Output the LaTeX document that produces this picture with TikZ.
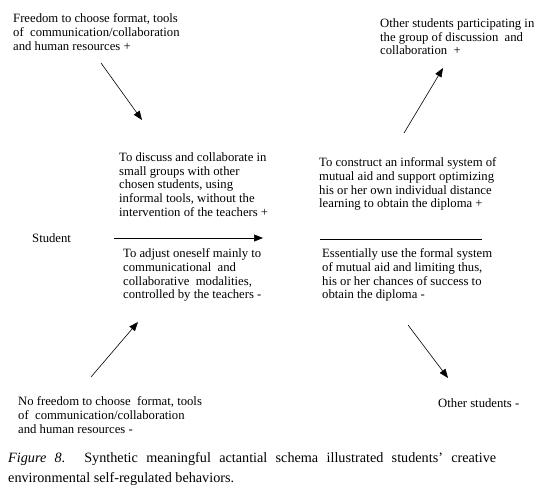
\documentclass[tikz,border=0pt]{standalone}
\usepackage{fontspec}
\setmainfont{Liberation Serif}
\usetikzlibrary{arrows.meta}
\begin{document}
\begin{tikzpicture}[x=1pt,y=-1pt,
  lbl/.style={anchor=north west,inner sep=0pt,align=left,font=\fontsize{12.7}{13.8}\selectfont},
  captext/.style={anchor=north west,inner sep=0pt,text width=488pt,align=justify,font=\fontsize{14.2}{20}\selectfont},
  arr/.style={-{Triangle[length=9pt,width=7pt]},line width=0.6pt},
  plainline/.style={line width=0.6pt}]
\useasboundingbox (0,0) rectangle (556,491);
\node[lbl] (free) at (13,13.3) {Freedom to choose format, tools\\of\ \ communication/collaboration\\and human resources +};
\node[lbl] (others) at (380,18.3) {Other students participating in\\the group of discussion\ \ and\\collaboration\ \ +};
\node[lbl] (discuss) at (119,152.3) {To discuss and collaborate in\\small groups with other\\chosen students, using\\informal tools, without the\\intervention of the teachers +};
\node[lbl] (student) at (32,233.3) {Student};
\node[lbl] (adjust) at (123,248.3) {To adjust oneself mainly to\\communicational\ \ and\\collaborative\ \ modalities,\\controlled by the teachers -};
\node[lbl] (construct) at (319,157.3) {To construct an informal system of\\mutual aid and support optimizing\\his or her own individual distance\\learning to obtain the diploma +};
\node[lbl] (formal) at (322,248.3) {Essentially use the formal system\\of mutual aid and limiting thus,\\his or her chances of success to\\obtain the diploma -};
\node[lbl] (nofree) at (18,396.3) {No freedom to choose\ \ format, tools\\of\ \ communication/collaboration\\and human resources -};
\node[lbl] (otherm) at (438,398.3) {Other students -};
\node[captext] (caption) at (8,452.3) {\textit{Figure 8}. Synthetic meaningful actantial schema illustrated students' creative\linebreak environmental self-regulated behaviors.};
\coordinate (a1s) at (101,63); \coordinate (a1e) at (142,120);
\coordinate (a2s) at (404,133); \coordinate (a2e) at (443,68);
\coordinate (a3s) at (91,377); \coordinate (a3e) at (138,322);
\coordinate (a4s) at (408,325); \coordinate (a4e) at (448,378);
\coordinate (hs) at (114,238); \coordinate (he) at (263,238);
\coordinate (ls) at (320,239); \coordinate (le) at (482,239);
\draw[arr] (a1s) -- (a1e);
\draw[arr] (a2s) -- (a2e);
\draw[arr] (a3s) -- (a3e);
\draw[arr] (a4s) -- (a4e);
\draw[arr] (hs) -- (he);
\draw[plainline] (ls) -- (le);
\end{tikzpicture}
\end{document}
